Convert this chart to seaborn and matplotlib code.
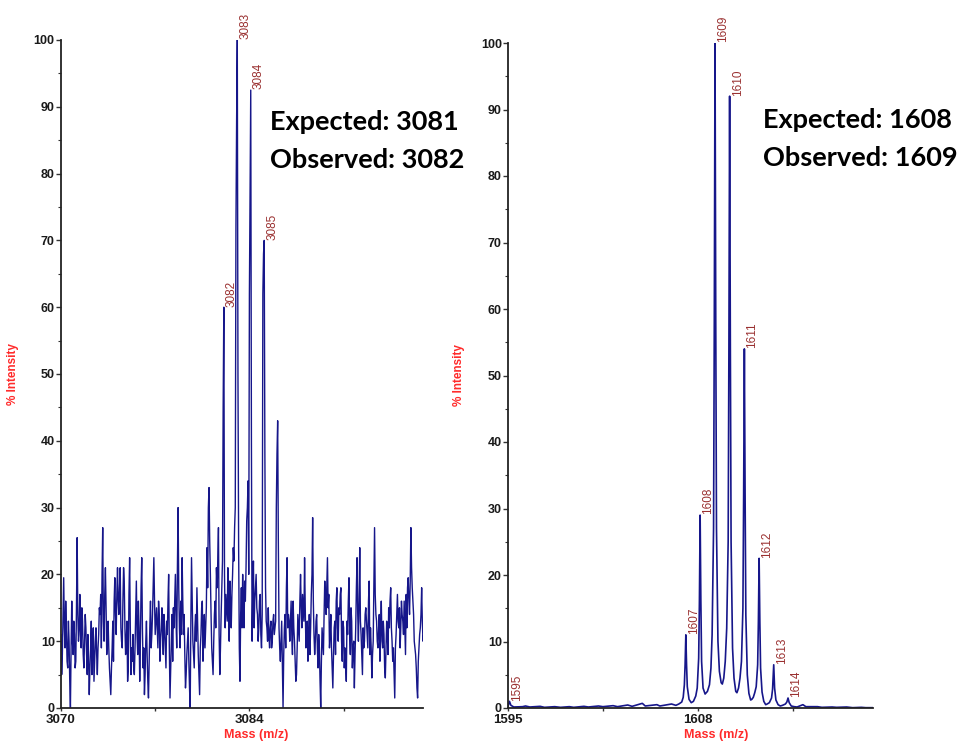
import numpy as np
import pandas as pd
import matplotlib
matplotlib.use("Agg")
import matplotlib.pyplot as plt
import seaborn as sns

# ---------------- data: left spectrum (3070-3097) ----------------
# samples at 3070.0 + 0.1*i
left_start = 3070.0
left_step = 0.1
left_intensity = [
    11, 8, 19.5, 9, 12, 6, 10, 0, 16, 8,
    11, 7, 25.5, 10, 17, 9, 13, 6, 14, 8,
    11, 2, 9, 5, 12, 7, 12, 5, 11, 14,
    9, 27, 10, 21, 8, 13, 6, 2, 9, 7,
    19.5, 11, 21, 14, 21, 10, 16, 19, 8, 13,
    6, 22.5, 5, 7, 6, 9, 19, 8, 12, 10,
    22.5, 6, 2, 10, 8, 1.5, 12, 9, 14, 22.5,
    11, 15, 9, 14, 10, 15, 8, 12, 6, 11,
    20, 1.5, 10, 7, 12, 20, 9, 30, 12, 16,
    22.5, 11, 8, 5, 10, 7, 0, 22.5, 10, 6,
    14, 18, 8, 2, 11, 16, 10, 9, 15, 18,
    33, 20, 9, 5, 14, 12, 18, 27, 5, 14,
    22, 60, 12, 15, 21, 10, 16, 17, 24, 27,
    72, 100, 24, 4, 18, 20, 12, 16, 28, 34,
    62, 92.5, 10, 22, 16, 20, 14, 12, 17, 9,
    62, 70, 18, 12, 15, 9, 13, 10, 14, 12,
    30, 43, 12, 7, 13, 0, 12, 9, 22.5, 14,
    10, 16, 8, 12, 7, 5, 14, 10, 20, 12,
    15, 22.5, 9, 13, 10, 8, 17, 28.5, 11, 10,
    14, 6, 9, 0, 12, 8, 19, 14, 22.5, 17,
    11, 9, 3, 12, 8, 18, 10, 14, 18, 7,
    12, 9, 4, 11, 19.5, 8, 13, 9, 3, 12,
    22.5, 10, 24, 11, 5, 9, 14, 13, 9, 19,
    12, 4.5, 10, 27, 14, 10, 12, 7, 16, 9,
    11, 4.5, 13, 8, 12, 18, 10, 9, 1.5, 11,
    17, 12, 9, 16, 13, 16, 8, 12, 19.5, 14,
    27, 18, 14, 9, 6, 1.5, 9, 12, 18, 10,
]
# samples at 3070.05 + 0.1*j (in-between readings)
left_mid_start = 3070.05
left_intensity_mid = [
    5, 14, 12, 16, 7, 13, 4, 9, 10, 13,
    6, 15, 14, 12, 11, 15, 8, 10, 12, 5,
    7, 6, 13, 9, 4, 10, 8, 9, 15, 17,
    20, 13, 17, 15, 11, 9, 4, 6, 13, 16,
    14, 17, 16, 18, 12, 9, 21, 12, 10, 4,
    17, 12, 9, 11, 5, 14, 11, 16, 4, 18,
    12, 9, 5, 13, 4, 7, 16, 11, 18, 16,
    13, 12, 16, 7, 12, 11, 14, 9, 13, 16,
    9, 6, 14, 15, 16, 13, 21, 18, 9, 11,
    16, 14, 3, 8, 12, 3, 13, 16, 8, 12,
    10, 13, 5, 9, 15, 7, 14, 12, 24, 30,
    25, 14, 7, 10, 16, 21, 22, 11, 9, 18,
    45, 20, 17, 13, 14, 19, 12, 20, 22, 30,
    88, 50, 9, 14, 12, 15, 19, 21, 30, 20,
    78, 40, 17, 12, 18, 15, 10, 16, 11, 14,
    68, 38, 13, 10, 11, 12, 9, 13, 11, 13,
    38, 25, 9, 10, 6, 8, 14, 18, 12, 13,
    13, 11, 16, 10, 4, 9, 12, 16, 15, 17,
    13, 15, 12, 7, 14, 12, 20, 16, 8, 13,
    9, 11, 4, 7, 10, 14, 16, 18, 15, 9,
    14, 6, 8, 13, 16, 12, 15, 17, 10, 13,
    6, 7, 13, 16, 11, 15, 6, 10, 8, 18,
    14, 16, 13, 8, 12, 10, 15, 11, 16, 8,
    9, 8, 18, 17, 13, 9, 14, 12, 10, 13,
    6, 9, 11, 15, 16, 12, 7, 5, 9, 14,
    13, 15, 12, 14, 11, 12, 17, 18, 16, 19,
    21, 16, 10, 8, 3, 7, 11, 14, 13, 11,
]
left_labels = ["3082", "3083", "3084", "3085"]
left_label_mz = [3082.1, 3083.1, 3084.1, 3085.1]
left_label_int = [60, 100, 92.5, 70]
left_major_ticks = [3070, 3084]
left_minor_ticks = [3077, 3091]
left_xlim = [3070, 3096.9]
left_text = ["Expected: 3081", "Observed: 3082"]

# ---------------- data: right spectrum ----------------
right_mz = [
    1595.0, 1595.1, 1595.2, 1595.4, 1596.0, 1596.2, 1596.5, 1597.2, 1597.5, 1598.2,
    1598.6, 1599.2, 1599.5, 1600.2, 1600.5, 1601.2, 1601.5, 1602.2, 1602.5, 1603.2,
    1603.5, 1604.2, 1604.4, 1605.2, 1605.4, 1606.2, 1606.5, 1606.7,
    1606.9, 1607.0, 1607.08, 1607.13, 1607.18, 1607.23, 1607.28, 1607.4, 1607.55, 1607.7,
    1607.86, 1607.96, 1608.06, 1608.11, 1608.16, 1608.21, 1608.26, 1608.36, 1608.5, 1608.66,
    1608.8, 1608.9, 1608.98, 1609.08, 1609.13, 1609.18, 1609.23, 1609.28, 1609.38, 1609.48, 1609.6, 1609.68,
    1609.78, 1609.88, 1609.98, 1610.08, 1610.13, 1610.18, 1610.23, 1610.28, 1610.38, 1610.48, 1610.6, 1610.68,
    1610.79, 1610.89, 1610.99, 1611.09, 1611.14, 1611.19, 1611.24, 1611.29, 1611.39, 1611.5, 1611.62, 1611.7,
    1611.8, 1611.9, 1612.0, 1612.1, 1612.15, 1612.2, 1612.25, 1612.3, 1612.4, 1612.52, 1612.65, 1612.75,
    1612.9, 1613.05, 1613.12, 1613.2, 1613.26, 1613.35, 1613.5, 1613.65, 1613.8,
    1614.0, 1614.1, 1614.18, 1614.26, 1614.4, 1614.6, 1614.8, 1615.2, 1615.4, 1616.2,
    1616.5, 1617.2, 1617.5, 1618.2, 1618.6, 1619.2, 1619.5, 1620.0,
]
right_intensity = [
    0.2, 1.0, 0.4, 0.15, 0.2, 0.3, 0.15, 0.25, 0.1, 0.2,
    0.1, 0.2, 0.1, 0.25, 0.15, 0.3, 0.2, 0.35, 0.2, 0.45,
    0.25, 0.7, 0.3, 0.5, 0.3, 0.6, 0.4, 0.6,
    0.9, 1.6, 3.5, 6.5, 11, 6.5, 3.2, 1.3, 0.8, 1.0,
    1.8, 3.0, 7.5, 16, 29, 16, 7, 3.0, 2.1, 2.5,
    3.5, 6, 11, 27, 58, 100, 58, 27, 10, 5.5, 3.8, 3.6,
    4.5, 7, 12, 25, 54, 92, 54, 25, 9, 4.5, 2.5, 2.3,
    3.0, 4.5, 7, 15, 32, 54, 32, 14, 5, 2.2, 1.2, 1.3,
    1.6, 2.3, 3.2, 6.5, 13, 22.5, 13, 6, 2.4, 1.0, 0.5, 0.6,
    0.8, 1.5, 2.8, 6.5, 3.0, 1.2, 0.5, 0.3, 0.4,
    0.6, 0.9, 1.5, 0.8, 0.3, 0.2, 0.15, 0.5, 0.2, 0.2,
    0.1, 0.15, 0.1, 0.15, 0.05, 0.1, 0.05, 0.05,
]
right_labels = ["1595", "1607", "1608", "1609", "1610", "1611", "1612", "1613", "1614"]
right_label_mz = [1595.1, 1607.18, 1608.16, 1609.18, 1610.18, 1611.19, 1612.2, 1613.2, 1614.18]
right_label_int = [1.0, 11, 29, 100, 92, 54, 22.5, 6.5, 1.5]
right_major_ticks = [1595, 1608]
right_minor_ticks = [1601.5, 1614.5]
right_xlim = [1595, 1620]
right_text = ["Expected: 1608", "Observed: 1609"]

# ---------------- build frames ----------------
left_df = pd.concat([
    pd.DataFrame({"mz": left_start + left_step * np.arange(len(left_intensity)),
                  "intensity": left_intensity}),
    pd.DataFrame({"mz": left_mid_start + left_step * np.arange(len(left_intensity_mid)),
                  "intensity": left_intensity_mid}),
]).sort_values("mz").reset_index(drop=True)
right_df = pd.DataFrame({"mz": right_mz, "intensity": right_intensity})

sns.set_theme(style="ticks")
plt.rcParams["font.family"] = ["Liberation Sans", "DejaVu Sans"]

fig = plt.figure(figsize=(9.67, 7.47), dpi=100)
ax_l = fig.add_axes([61 / 967, 1 - 708 / 747, 362 / 967, 668 / 747])
ax_r = fig.add_axes([508 / 967, 1 - 708 / 747, 365 / 967, 665 / 747])

line_color = "#16168a"
label_red = "#ff2b2b"
peak_label_color = "#9a3030"

def style_axes(ax, xlim, majors, minors, xlabel_x):
    ax.set_xlim(*xlim)
    ax.set_ylim(0, 100)
    ax.set_xticks(majors)
    ax.set_xticks(minors, minor=True)
    ax.set_xticklabels([str(t) for t in majors], fontsize=9.5, fontweight="bold",
                       color="#1a1a1a")
    ax.set_yticks(np.arange(0, 101, 10))
    ax.set_yticks(np.arange(0, 101, 5), minor=True)
    ax.set_yticklabels([str(t) for t in range(0, 101, 10)], fontsize=9,
                       fontweight="bold", color="#1a1a1a")
    ax.tick_params(axis="y", which="major", length=3.5, width=1, pad=1, color="#333333")
    ax.tick_params(axis="y", which="minor", length=2, width=0.8, color="#333333")
    ax.tick_params(axis="x", which="major", length=2.5, width=1, pad=1.5, color="#333333")
    ax.tick_params(axis="x", which="minor", length=2.5, width=1, color="#333333")
    for s in ["top", "right"]:
        ax.spines[s].set_visible(False)
    for s in ["left", "bottom"]:
        ax.spines[s].set_linewidth(1.3)
        ax.spines[s].set_color("#222222")
    ax.set_xlabel("Mass (m/z)", fontsize=9, fontweight="bold", color=label_red)
    ax.set_ylabel("% Intensity", fontsize=8.5, fontweight="bold", color=label_red)
    ax.xaxis.set_label_coords(xlabel_x, -0.032)
    ax.yaxis.set_label_coords(-0.117, 0.5)
    ax.set_facecolor("white")

sns.lineplot(data=left_df, x="mz", y="intensity", ax=ax_l, color=line_color,
             linewidth=1.0, sort=False, estimator=None)
sns.lineplot(data=right_df, x="mz", y="intensity", ax=ax_r, color=line_color,
             linewidth=1.2, sort=False, estimator=None)

style_axes(ax_l, left_xlim, left_major_ticks, left_minor_ticks, 0.54)
style_axes(ax_r, right_xlim, right_major_ticks, right_minor_ticks, 0.57)

for ax, labs, xs, ys in [(ax_l, left_labels, left_label_mz, left_label_int),
                         (ax_r, right_labels, right_label_mz, right_label_int)]:
    for lab, x, y in zip(labs, xs, ys):
        ax.annotate(lab, xy=(x, y), xytext=(1.5, 0.5), textcoords="offset points",
                    rotation=90, ha="left", va="bottom", fontsize=8.5,
                    color=peak_label_color, annotation_clip=False)

for txt, x0, ys in [(left_text, 270 / 967, [1 - 130 / 747, 1 - 168 / 747]),
                    (right_text, 763 / 967, [1 - 128 / 747, 1 - 166 / 747])]:
    for t, y in zip(txt, ys):
        fig.text(x0, y, t, fontsize=19.5, fontweight="bold", color="black",
                 family=["Lato", "DejaVu Sans"], ha="left", va="baseline")

fig.savefig("out.png", dpi=100, facecolor="white")
